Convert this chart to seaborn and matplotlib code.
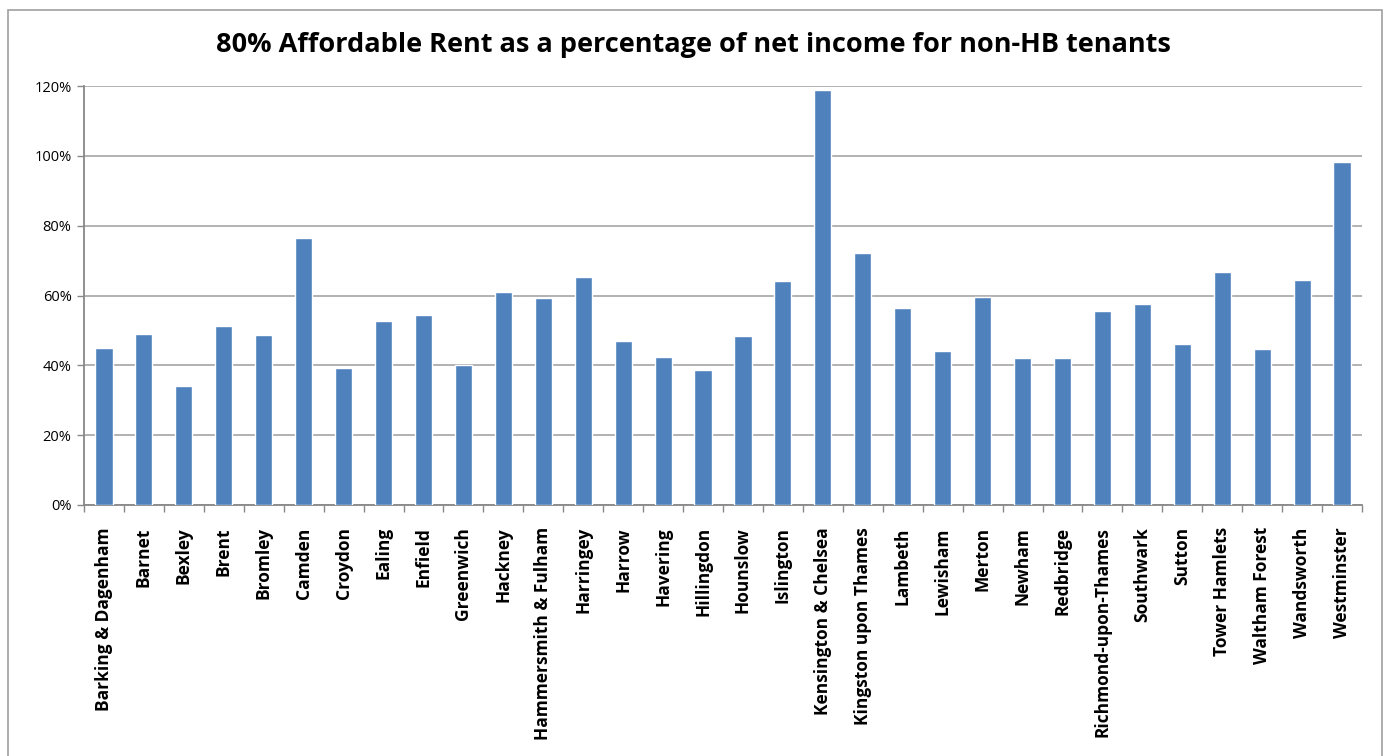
import numpy as np
import pandas as pd
import seaborn as sns
import matplotlib.pyplot as plt
from matplotlib.patches import Rectangle
from matplotlib.ticker import PercentFormatter, FixedLocator

boroughs = ["Barking & Dagenham", "Barnet", "Bexley", "Brent", "Bromley", "Camden",
            "Croydon", "Ealing", "Enfield", "Greenwich", "Hackney", "Hammersmith & Fulham",
            "Harringey", "Harrow", "Havering", "Hillingdon", "Hounslow", "Islington",
            "Kensington & Chelsea", "Kingston upon Thames", "Lambeth", "Lewisham", "Merton",
            "Newham", "Redbridge", "Richmond-upon-Thames", "Southwark", "Sutton",
            "Tower Hamlets", "Waltham Forest", "Wandsworth", "Westminster"]
rent_pct = [44.9, 48.9, 34.0, 51.2, 48.6, 76.4, 39.1, 52.6, 54.3, 40.0,
            60.9, 59.2, 65.2, 46.9, 42.3, 38.6, 48.3, 64.1, 118.8, 72.1,
            56.3, 44.0, 59.5, 42.0, 42.0, 55.5, 57.5, 46.0, 66.6, 44.6,
            64.3, 98.1]

df = pd.DataFrame({"Borough": boroughs, "Rent": rent_pct})

sns.set_style("white")
plt.rcParams['font.family'] = ['Open Sans', 'DejaVu Sans']
plt.rcParams['text.color'] = 'black'
plt.rcParams['xtick.labelcolor'] = 'black'
plt.rcParams['ytick.labelcolor'] = 'black'

fig = plt.figure(figsize=(13.86, 7.56), dpi=100)
ax = fig.add_axes([84 / 1386, 1 - 505 / 756, (1362 - 84) / 1386, (505 - 86) / 756])

sns.barplot(data=df, x="Borough", y="Rent", color="#4F81BD", width=0.43,
            saturation=1, ax=ax, zorder=3)

ax.set_ylim(0, 120)
ax.set_xlim(-0.5, len(boroughs) - 0.5)
ax.set_yticks(np.arange(0, 121, 20))
ax.yaxis.set_major_formatter(PercentFormatter(decimals=0))
ax.yaxis.grid(True, color="#A6A6A6", linewidth=1.2, zorder=0)
ax.set_axisbelow(True)
ax.set_xlabel("")
ax.set_ylabel("")

ax.set_xticks(range(len(boroughs)))
ax.set_xticklabels(boroughs, rotation=90, fontsize=12.5, fontweight="bold", color="black")
ax.xaxis.set_minor_locator(FixedLocator(np.arange(-0.5, len(boroughs), 1)))
ax.tick_params(axis="x", which="major", length=0, pad=16)
ax.tick_params(axis="x", which="minor", length=5, color="#888888", width=1, direction="out")
ax.tick_params(axis="y", length=5, color="#888888", width=1, direction="out",
               labelsize=10.5, pad=4, labelcolor="black")
ax.xaxis.set_ticks_position("bottom")
ax.yaxis.set_ticks_position("left")

for s in ["top", "right"]:
    ax.spines[s].set_visible(False)
for s in ["left", "bottom"]:
    ax.spines[s].set_color("#888888")
    ax.spines[s].set_linewidth(1.3)

fig.text(0.5, 1 - 45 / 756, "80% Affordable Rent as a percentage of net income for non-HB tenants",
         ha="center", va="center", fontsize=19.5, fontweight="bold", color="black")

fig.patches.append(Rectangle((8 / 1386, -0.05), (1382 - 8) / 1386, 1.05 - 10 / 756,
                             transform=fig.transFigure, fill=False,
                             edgecolor="#A0A0A0", linewidth=1.2))

fig.savefig("out.png", dpi=100)
